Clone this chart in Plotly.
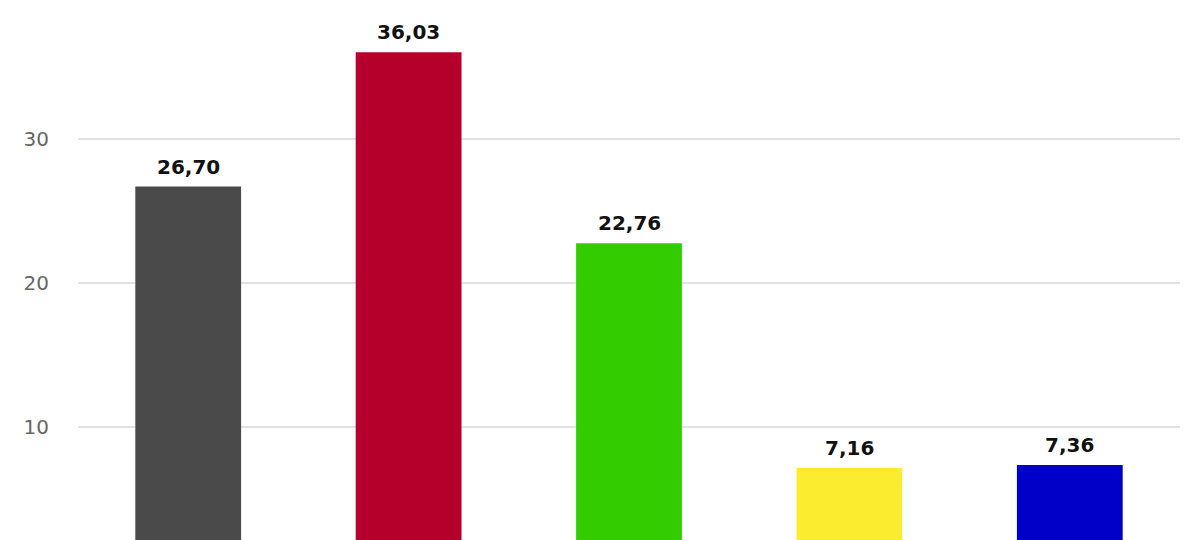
import plotly.graph_objects as go

categories = ["A", "B", "C", "D", "E"]
values = [26.70, 36.03, 22.76, 7.16, 7.36]
labels = ["26,70", "36,03", "22,76", "7,16", "7,36"]
colors = ["#4a4a4a", "#b4002b", "#33cc00", "#fbec30", "#0000c8"]
tick_vals = [10, 20, 30]
tick_text = ["10", "20", "30"]

fig = go.Figure()
fig.add_trace(go.Bar(
    x=categories, y=values, marker=dict(color=colors, line=dict(width=0)),
    hoverinfo="skip",
))
annotations = [
    dict(x=c, y=v, text=t, xref="x", yref="y", xanchor="center", yanchor="bottom",
         yshift=6, showarrow=False,
         font=dict(family="DejaVu Sans", size=20, color="#111111", weight="bold"))
    for c, v, t in zip(categories, values, labels)
]
annotations.append(dict(text="40", xref="paper", yref="paper", x=0, y=1 + 13/540,
                        xanchor="right", yanchor="middle", xshift=-29, showarrow=False,
                        font=dict(family="DejaVu Sans", size=20, color="#666666")))
fig.update_layout(
    width=1200, height=540,
    margin=dict(l=70, r=28, t=0, b=0),
    paper_bgcolor="white", plot_bgcolor="white",
    bargap=0.52, showlegend=False,
    font=dict(family="DejaVu Sans"),
    xaxis=dict(showticklabels=False, showgrid=False, zeroline=False, showline=False),
    yaxis=dict(range=[1.6, 39.1], tickvals=tick_vals, ticktext=tick_text,
               showgrid=True, gridcolor="#e2e2e2", gridwidth=1.5, zeroline=False,
               showline=False, ticklabelstandoff=28,
               tickfont=dict(family="DejaVu Sans", size=20, color="#666666")),
    annotations=annotations,
)
fig.write_html("out.html")
